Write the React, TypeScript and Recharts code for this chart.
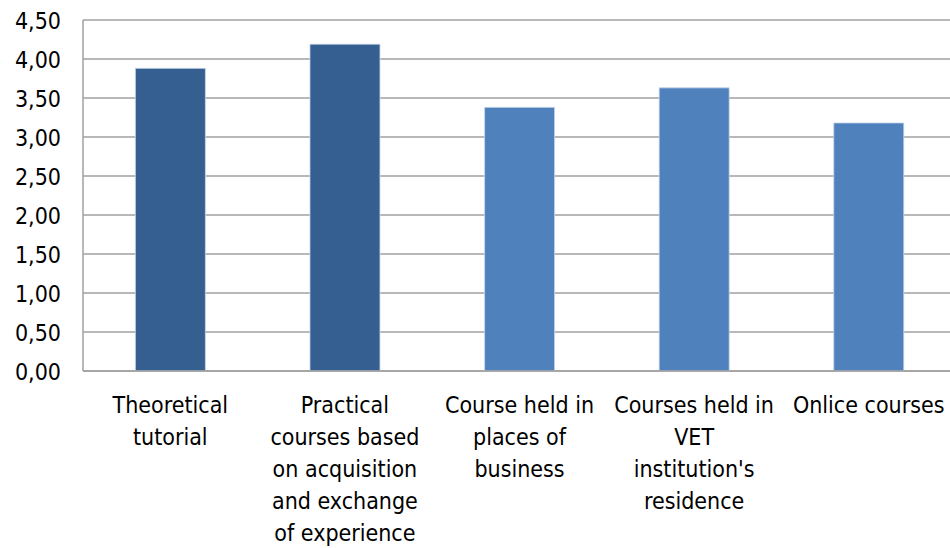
import { BarChart, Bar, XAxis, YAxis, CartesianGrid, Cell } from 'recharts'

const CATEGORIES = [
  'Theoretical tutorial',
  'Practical courses based on acquisition and exchange of experience',
  'Course held in places of business',
  "Courses held in VET institution's residence",
  'Onlice courses',
]
const CATEGORY_LINES = [
  ['Theoretical', 'tutorial'],
  ['Practical', 'courses based', 'on acquisition', 'and exchange', 'of experience'],
  ['Course held in', 'places of', 'business'],
  ['Courses held in', 'VET', "institution's", 'residence'],
  ['Onlice courses'],
]
const VALUES = [3.88, 4.19, 3.38, 3.63, 3.18]
const Y_TICKS = [0, 0.5, 1, 1.5, 2, 2.5, 3, 3.5, 4, 4.5]

const BAR_COLORS = ['#365F91', '#365F91', '#4F81BD', '#4F81BD', '#4F81BD']
const FONT = '"Liberation Sans Narrow", "DejaVu Sans Condensed", sans-serif'

const data = CATEGORIES.map((name, i) => ({ name, value: VALUES[i] }))

function CategoryTick({ x, y, payload }: any) {
  const lines = CATEGORY_LINES[payload.index] ?? [payload.value]
  return (
    <text x={x} y={y} textAnchor="middle" fill="#000" fontSize={23} fontFamily={FONT}>
      {lines.map((l, i) => (
        <tspan key={i} x={x} dy={i === 0 ? 34 : 32}>{l}</tspan>
      ))}
    </text>
  )
}

function ValueTick({ x, y, payload }: any) {
  return (
    <text x={x} y={y} dy={9} textAnchor="end" fill="#000" fontSize={23} fontFamily={FONT}>
      {payload.value.toFixed(2).replace('.', ',')}
    </text>
  )
}

export default function App() {
  return (
    <div style={{ width: 950, height: 548, overflow: 'hidden', background: '#fff' }}>
      <style>{'body{margin:0}'}</style>
      <BarChart width={960} height={548} data={data} barCategoryGap="30%"
        margin={{ top: 20, right: 4, left: 2, bottom: 0 }}>
        <CartesianGrid vertical={false} stroke="#A0A0A0" strokeWidth={1.5} />
        <XAxis dataKey="name" height={177} interval={0} tickLine={false}
          axisLine={{ stroke: '#A0A0A0', strokeWidth: 1.5 }} tick={<CategoryTick />} />
        <YAxis width={81} domain={[0, 4.5]} ticks={Y_TICKS} interval={0} tickLine={false}
          tickMargin={16} axisLine={{ stroke: '#A0A0A0', strokeWidth: 1.5 }} tick={<ValueTick />} />
        <Bar dataKey="value" isAnimationActive={false} stroke="#C9D7EA" strokeWidth={0.8}>
          {data.map((_, i) => <Cell key={i} fill={BAR_COLORS[i]} />)}
        </Bar>
      </BarChart>
    </div>
  )
}
